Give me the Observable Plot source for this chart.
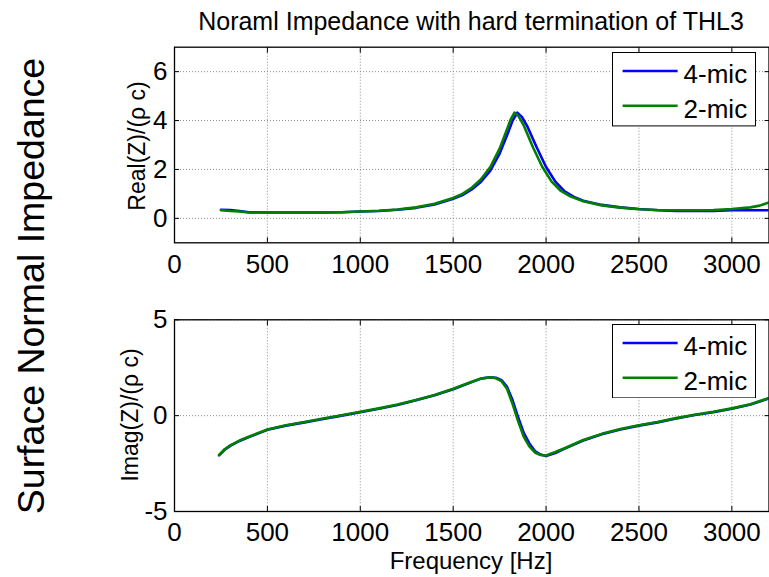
<!DOCTYPE html>
<html><head><meta charset="utf-8">
<script src="https://cdn.jsdelivr.net/npm/d3@7"></script>
<script src="https://cdn.jsdelivr.net/npm/@observablehq/plot@0.6"></script>
<style>
html,body{margin:0;padding:0;background:#fff;}
#fig{position:relative;width:769px;height:577px;overflow:hidden;font-family:"Liberation Sans",Arial,sans-serif;}
#fig > *{position:absolute;}
</style></head><body><div id="fig"></div>
<script>
// ---------- data ----------
const xTicks = [0, 500, 1000, 1500, 2000, 2500, 3000];
const realTicks = [0, 2, 4, 6];
const imagTicks = [-5, 0, 5];
const seriesNames = ["4-mic", "2-mic"];
const seriesColors = ["#0000ff", "#008000"];

const freqReal4 = [250,300,350,400,500,600,700,800,900,1000,1100,1200,1300,1400,1500,1550,1600,1650,1700,1750,1790,1820,1845,1870,1900,1950,2000,2050,2100,2150,2200,2300,2400,2500,2600,2700,2800,2900,3000,3100,3200];
const real4 =     [0.35,0.34,0.30,0.25,0.24,0.24,0.24,0.24,0.25,0.28,0.30,0.35,0.43,0.57,0.80,0.95,1.18,1.50,1.95,2.65,3.40,4.00,4.32,4.15,3.75,2.90,2.10,1.50,1.10,0.88,0.72,0.55,0.45,0.38,0.33,0.30,0.30,0.30,0.33,0.33,0.33];

const freqReal2 = [250,300,350,400,500,600,700,800,900,1000,1100,1200,1300,1400,1500,1550,1600,1650,1700,1750,1790,1810,1830,1850,1880,1930,1980,2030,2080,2130,2200,2300,2400,2500,2600,2700,2800,2900,3000,3100,3150,3200];
const real2 =     [0.33,0.30,0.28,0.24,0.24,0.24,0.24,0.24,0.25,0.28,0.31,0.36,0.45,0.60,0.83,1.00,1.25,1.60,2.10,2.85,3.65,4.05,4.32,4.20,3.80,2.90,2.10,1.50,1.12,0.90,0.70,0.53,0.44,0.37,0.34,0.33,0.33,0.34,0.38,0.45,0.52,0.65];

const freqImag4 = [240,270,300,350,400,500,600,700,800,900,1000,1100,1200,1300,1400,1500,1600,1650,1700,1730,1760,1790,1820,1850,1880,1910,1940,1970,2000,2050,2100,2200,2300,2400,2500,2600,2700,2800,2900,3000,3100,3200];
const imag4 =     [-2.07,-1.78,-1.58,-1.32,-1.12,-0.74,-0.52,-0.35,-0.17,0.00,0.18,0.36,0.56,0.80,1.06,1.38,1.75,1.93,2.00,1.98,1.85,1.50,0.80,-0.10,-0.90,-1.45,-1.85,-2.03,-2.10,-1.95,-1.72,-1.30,-0.97,-0.72,-0.52,-0.35,-0.15,0.03,0.18,0.36,0.58,0.90];

const freqImag2 = [240,270,300,350,400,500,600,700,800,900,1000,1100,1200,1300,1400,1500,1600,1650,1700,1730,1760,1790,1820,1850,1880,1910,1940,1970,2000,2050,2100,2200,2300,2400,2500,2600,2700,2800,2900,3000,3100,3200];
const imag2 =     [-2.05,-1.75,-1.55,-1.30,-1.10,-0.72,-0.50,-0.33,-0.15,0.02,0.20,0.38,0.58,0.82,1.08,1.40,1.77,1.94,2.00,1.95,1.80,1.40,0.60,-0.30,-1.10,-1.60,-1.92,-2.05,-2.08,-1.90,-1.70,-1.27,-0.95,-0.70,-0.50,-0.33,-0.13,0.05,0.20,0.38,0.60,0.92];

// ---------- layout ----------
const W = 769, H = 577;
const FONT = "'Liberation Sans', Arial, Helvetica, sans-serif";
const fig = document.getElementById("fig");
const fmt = d => String(d);

function toRows(fs, vs) { return fs.map((f, i) => ({f, v: vs[i]})); }

function panel({top, height, plotTop, plotBottom, yDomain, yTicks, series}) {
  const grid = {stroke: "#8c8c8c", strokeOpacity: 1, strokeDasharray: "1,2", strokeWidth: 1};
  const svg = Plot.plot({
    width: W, height,
    marginTop: plotTop - top, marginBottom: top + height - plotBottom,
    marginLeft: 174, marginRight: 0.5,
    style: {fontFamily: FONT, fontSize: "26px", color: "black", background: "transparent", overflow: "visible"},
    x: {domain: [0, 3200]},
    y: {domain: yDomain},
    marks: [
      Plot.gridX(xTicks, grid),
      Plot.gridY(yTicks, grid),
      ...series.map((s, i) => Plot.line(toRows(s.f, s.v), {x: "f", y: "v", stroke: seriesColors[i], strokeWidth: 2.6, clip: true})),
      Plot.axisX(xTicks, {anchor: "bottom", tickSize: 0, tickPadding: 11.5, tickFormat: fmt, label: null, fill: "black"}),
      Plot.axisY(yTicks, {anchor: "left", tickSize: 0, tickPadding: 7, tickFormat: fmt, label: null, fill: "black"}),
      Plot.axisX(xTicks, {anchor: "bottom", tickSize: -5, fill: "none", label: null, stroke: "black"}),
      Plot.axisX(xTicks, {anchor: "top", tickSize: -5, fill: "none", label: null, stroke: "black"}),
      Plot.axisY(yTicks, {anchor: "left", tickSize: -5, fill: "none", label: null, stroke: "black"}),
      Plot.axisY(yTicks, {anchor: "right", tickSize: -5, fill: "none", label: null, stroke: "black"}),
      Plot.frame({stroke: "black", strokeWidth: 1.3})
    ]
  });
  svg.style.left = "0px";
  svg.style.top = top + "px";
  fig.appendChild(svg);
}

panel({top: 0, height: 290, plotTop: 46.7, plotBottom: 242.3, yDomain: [-1, 7], yTicks: realTicks,
  series: [{f: freqReal4, v: real4}, {f: freqReal2, v: real2}]});
panel({top: 290, height: 287, plotTop: 319.3, plotBottom: 511, yDomain: [-5, 5], yTicks: imagTicks,
  series: [{f: freqImag4, v: imag4}, {f: freqImag2, v: imag2}]});

// ---------- legends ----------
function legend(left, top) {
  const w = 144, h = 74.4;
  const div = document.createElement("div");
  div.style.left = left + "px"; div.style.top = top + "px";
  const s = d3.create("svg").attr("width", w).attr("height", h).style("display", "block");
  s.append("rect").attr("x", 0.5).attr("y", 0.5).attr("width", w - 1).attr("height", h - 1)
    .attr("fill", "white").attr("stroke", "black").attr("stroke-width", 1);
  seriesNames.forEach((name, i) => {
    const yy = 19 + i * 34.7;
    s.append("line").attr("x1", 10.6).attr("x2", 65.6).attr("y1", yy).attr("y2", yy)
      .attr("stroke", seriesColors[i]).attr("stroke-width", 2.6);
    s.append("text").attr("x", 71.6).attr("y", yy + 12).attr("font-family", FONT)
      .attr("font-size", 26).attr("fill", "black").text(name);
  });
  div.appendChild(s.node());
  fig.appendChild(div);
}
legend(611.7, 52.3);
legend(611.7, 324);

// ---------- titles / labels ----------
const ov = d3.create("svg").attr("width", W).attr("height", H)
  .style("left", "0px").style("top", "0px").style("pointer-events", "none")
  .attr("font-family", FONT).attr("fill", "black");
ov.append("text").attr("x", 471).attr("y", 29.5).attr("text-anchor", "middle").attr("font-size", 25)
  .text("Noraml Impedance with hard termination of THL3");
ov.append("text").attr("x", 471).attr("y", 569).attr("text-anchor", "middle").attr("font-size", 24)
  .text("Frequency [Hz]");
ov.append("text").attr("transform", "translate(145,146) rotate(-90)").attr("text-anchor", "middle")
  .attr("font-size", 23).text("Real(Z)/(ρ c)");
ov.append("text").attr("transform", "translate(138,415) rotate(-90)").attr("text-anchor", "middle")
  .attr("font-size", 23).text("Imag(Z)/(ρ c)");
ov.append("text").attr("transform", "translate(44,286) rotate(-90)").attr("text-anchor", "middle")
  .attr("font-size", 37.5).text("Surface Normal Impedance");
fig.appendChild(ov.node());
</script></body></html>
